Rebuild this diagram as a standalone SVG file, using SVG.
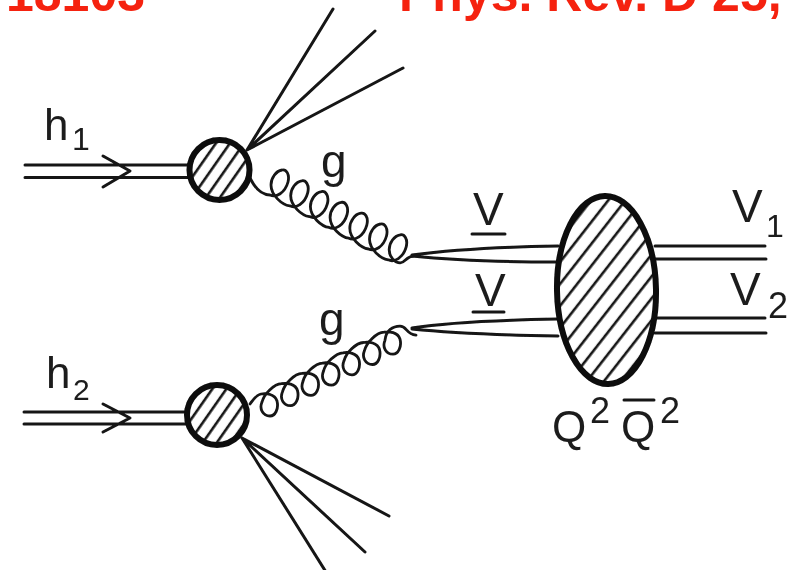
<svg xmlns="http://www.w3.org/2000/svg" width="794" height="570" viewBox="0 0 794 570">
<style>
.t{font-family:"Liberation Sans",Arial,sans-serif;fill:#1c1c1c}
.r{font-family:"Liberation Sans",Arial,sans-serif;font-weight:bold;font-size:50px;fill:#f5220f}
.l{fill:none;stroke:#141414;stroke-width:3;stroke-linecap:round;stroke-linejoin:round}
.c{fill:none;stroke:#141414;stroke-width:2.8;stroke-linecap:round;stroke-linejoin:round}
.b{stroke:#0c0c0c;stroke-width:6}
.h{stroke:#141414;stroke-width:2.6}
</style>
<defs>
<filter id="soft" x="-5%" y="-5%" width="110%" height="110%"><feGaussianBlur stdDeviation="0.6"/></filter>
<pattern id="hatch" width="11.500" height="11.500" patternUnits="userSpaceOnUse" patternTransform="rotate(-55)">
<rect width="11.500" height="11.500" fill="#fff"/><line x1="0" y1="6" x2="11.500" y2="6" class="h"/>
</pattern>
<pattern id="hatch2" width="13.500" height="13.500" patternUnits="userSpaceOnUse" patternTransform="rotate(-51)">
<rect width="13.500" height="13.500" fill="#fff"/><line x1="0" y1="6" x2="13.500" y2="6" class="h"/>
</pattern>
</defs>
<rect width="794" height="570" fill="#fff"/>
<text class="r" x="6" y="11">18103</text>
<text class="r" x="399" y="11">Phys. Rev. D 25,</text>
<g filter="url(#soft)">
<g id="connectors">
<path class="l" d="M25 165H190M25 177.500H190M103 156L130 171L103 187"/>
<path class="l" d="M24 412H186M24 424H186M103 404L130 418L103 432"/>
<path class="l" d="M247 150L333 9M247 150L375 31M247 150L403 68"/>
<path class="l" d="M242 438L389 516M242 438L365 552M242 438L326 572"/>
<path class="c" d="M250 178C254 186 260 195 270 195
c6 3 15 -2 18 -13c2 -8 -2 -13 -6 -12c-6 1 -11 8 -11 15c0 10 11 20 18.700 20.800
c6 3 15 -2 18 -13c2 -8 -2 -13 -6 -12c-6 1 -11 8 -11 15c0 10 11 20 18.700 20.800
c6 3 15 -2 18 -13c2 -8 -2 -13 -6 -12c-6 1 -11 8 -11 15c0 10 11 20 18.700 20.800
c6 3 15 -2 18 -13c2 -8 -2 -13 -6 -12c-6 1 -11 8 -11 15c0 10 11 20 18.700 20.800
c6 3 15 -2 18 -13c2 -8 -2 -13 -6 -12c-6 1 -11 8 -11 15c0 10 11 20 18.700 20.800
c6 3 15 -2 18 -13c2 -8 -2 -13 -6 -12c-6 1 -11 8 -11 15c0 10 11 20 18.700 20.800
c6 3 15 -2 18 -13c2 -8 -2 -13 -6 -12c-6 1 -11 8 -11 15c0 8 6 13 11 13c5 0 6 -7 14 -7"/>
<path class="c" d="M250 404C253 400 256 395 261 394
c5 -1 14 0 16 7c2 8 -2 15 -7 15c-7 0 -11 -7 -8 -14c2 -8 12 -18 19.500 -18.300
c5 -1 14 0 16 7c2 8 -2 15 -7 15c-7 0 -11 -7 -8 -14c2 -8 12 -18 19.500 -18.300
c5 -1 14 0 16 7c2 8 -2 15 -7 15c-7 0 -11 -7 -8 -14c2 -8 12 -18 19.500 -18.300
c5 -1 14 0 16 7c2 8 -2 15 -7 15c-7 0 -11 -7 -8 -14c2 -8 12 -18 19.500 -18.300
c5 -1 14 0 16 7c2 8 -2 15 -7 15c-7 0 -11 -7 -8 -14c2 -8 12 -18 19.500 -18.300
c5 -1 14 0 16 7c2 8 -2 15 -7 15c-7 0 -11 -7 -8 -14c2 -8 12 -18 19.500 -18.300
c5 -1 14 0 16 7c2 8 -2 15 -7 15c-7 0 -11 -7 -8 -14c1 -10 8 -14 15 -14c7 0 6 8 16 9"/>
<path class="l" d="M412 255C450 250 500 247 558 246M412 256C450 260 500 262 558 262"/>
<path class="l" d="M412 328C450 322 500 320 558 319M412 329C450 333 500 335 558 336"/>
<path class="l" d="M655 246H765M655 259H766M655 318H765M655 333H766"/>
</g>
<g id="blob-h1"><circle cx="219.500" cy="170" r="30" fill="url(#hatch)" class="b"/></g>
<g id="blob-h2"><circle cx="217" cy="415" r="30" fill="url(#hatch)" class="b"/></g>
<g id="blob-q"><ellipse cx="606.500" cy="290" rx="49.500" ry="94" transform="rotate(-1 606.500 290)" fill="url(#hatch2)" class="b"/></g>
<g id="labels">
<text class="t" x="44" y="140" font-size="44">h</text>
<text class="t" x="72" y="150" font-size="32">1</text>
<text class="t" x="46" y="388" font-size="44">h</text>
<text class="t" x="73" y="400" font-size="30">2</text>
<text class="t" x="321" y="177" font-size="46">g</text>
<text class="t" x="319" y="335" font-size="46">g</text>
<text class="t" x="473" y="225" font-size="46">V</text>
<text class="t" x="475" y="306" font-size="46">V</text>
<path class="l" d="M472 234H505M473 312H504M624 400H654"/>
<text class="t" x="732" y="222" font-size="46">V</text>
<text class="t" x="766" y="237" font-size="32">1</text>
<text class="t" x="730" y="305" font-size="46">V</text>
<text class="t" x="768" y="318" font-size="36">2</text>
<text class="t" x="552" y="442" font-size="44">Q</text>
<text class="t" x="590" y="423" font-size="36">2</text>
<text class="t" x="621" y="442" font-size="44">Q</text>
<text class="t" x="660" y="423" font-size="36">2</text>
</g>
</g>
</svg>
